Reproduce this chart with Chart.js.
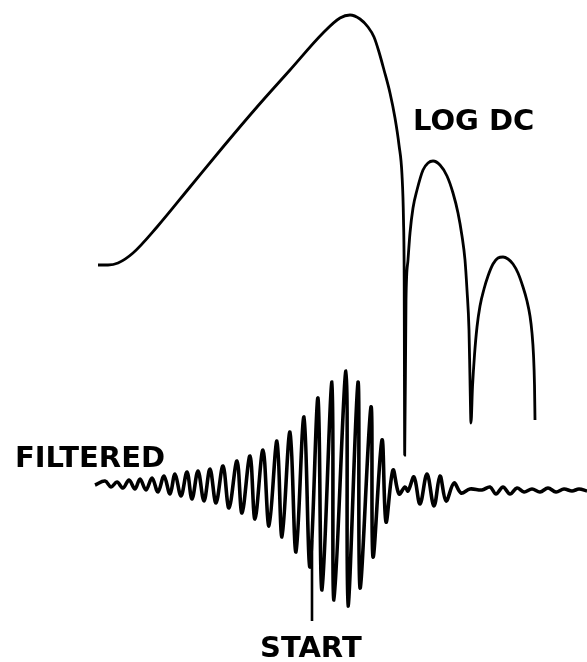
<!DOCTYPE html>
<html>
<head>
<meta charset="utf-8">
<script src="https://cdn.jsdelivr.net/npm/chart.js@4"></script>
<style>
  html, body { margin: 0; padding: 0; background: #fff; }
  #wrap { width: 587px; height: 662px; position: relative; }
</style>
</head>
<body>
<div id="wrap"><canvas id="c"></canvas></div>
<script>
// Time (ms from trace start) and deflection (chart divisions) of the two pen traces.

// Log-DC envelope: main lobe, then two smaller lobes separated by deep nulls
const dcTime  = [0.3, 1.3, 2.3, 3.8, 6.2, 9.5, 12.8, 16.2, 19.5, 22.8, 24.5, 25.5,
                 26.5, 27.3, 27.9, 28.4, 28.9, 29.5, 30.0, 30.4, 30.7, 30.85, 30.92,
                 30.97,
                 31.1, 31.3, 31.5, 31.8, 32.2, 32.8, 33.3, 33.8,
                 34.5, 35.2, 35.8, 36.3, 36.7, 37.0, 37.2, 37.4, 37.5, 37.6,
                 37.75, 37.95, 38.2, 38.5, 38.9, 39.3, 39.8, 40.3, 40.8,
                 41.3, 41.8, 42.3, 42.8, 43.2, 43.5, 43.7, 43.85, 43.95, 44.0];
const dcLevel = [22.4, 22.4, 22.6, 23.6, 26.2, 30.2, 34.2, 38.2, 41.9, 45.6, 47.1, 47.4,
                 47.0, 46.2, 45.2, 43.7, 41.9, 39.6, 37.1, 34.4, 31.4, 26.9, 20.9,
                 3.4,
                 18.9, 22.9, 25.6, 28.1, 29.9, 31.9, 32.6, 32.8,
                 32.4, 31.3, 29.6, 27.6, 25.3, 22.9, 19.9, 15.9, 10.9, 6.6,
                 10.2, 13.4, 16.2, 18.3, 20.0, 21.3, 22.5, 23.1, 23.2,
                 23.0, 22.5, 21.6, 20.2, 18.8, 17.3, 15.6, 13.4, 10.4, 6.9];

// Filtered (band-pass) trace: successive peaks and troughs of the tone burst
const filtTime = [0.0, 1.0, 1.6, 2.2, 2.8, 3.4, 4.0, 4.5, 5.1, 5.7, 6.3, 6.9, 7.5, 8.0, 8.6, 9.2, 9.7, 10.3, 10.9,
                  11.5, 12.1, 12.8, 13.4, 14.2, 14.7, 15.5, 16.0, 16.8, 17.4, 18.2, 18.7, 19.5, 20.1, 20.9, 21.5,
                  22.3, 22.7, 23.7, 23.9, 25.1, 25.3, 26.3, 26.5, 27.6, 27.8, 28.7, 29.1, 29.8, 30.4, 31.0, 31.3,
                  31.9, 32.5, 33.2, 33.9, 34.5, 35.1, 35.9, 36.6, 37.5, 38.7, 39.5, 40.1, 40.8, 41.5, 42.2, 42.9,
                  43.7, 44.5, 45.3, 46.1, 46.9, 47.7, 48.4, 49.2];
const filtAmp  = [0.4, 0.8, 0.2, 0.7, 0.1, 0.9, 0.0, 1.0, -0.1, 1.1, -0.3, 1.3, -0.5, 1.5, -0.7, 1.7, -1.0, 1.8, -1.2,
                  2.0, -1.4, 2.3, -1.9, 2.8, -2.4, 3.3, -3.0, 3.9, -3.7, 4.8, -4.8, 5.7, -6.3, 7.2, -7.8,
                  9.1, -10.1, 10.7, -11.1, 11.8, -11.7, 10.7, -9.9, 8.2, -6.8, 4.9, -3.3, 1.9, -0.5, 0.2, -0.2,
                  1.2, -1.5, 1.5, -1.7, 1.3, -1.2, 0.6, -0.4, 0.0, -0.1, 0.2, -0.5, 0.2, -0.5, 0.1, -0.3,
                  0.0, -0.3, 0.1, -0.3, 0.0, -0.2, 0.0, -0.2];

// Start-of-burst marker tick
const startTime = [21.7, 21.7];
const startAmp  = [-5.1, -13.2];

// Trace labels
const labelDC = 'LOG DC';
const labelFilt = 'FILTERED';
const labelStart = 'START';

const pts = (xs, ys) => xs.map((x, i) => ({ x: x, y: ys[i] }));

const labelPlugin = {
  id: 'traceLabels',
  afterDraw(chart) {
    const ctx = chart.ctx;
    ctx.save();
    ctx.fillStyle = '#000';
    ctx.font = "bold 29px 'DejaVu Sans', sans-serif";
    ctx.textBaseline = 'alphabetic';
    ctx.textAlign = 'left';
    ctx.fillText(labelDC, 413, 130);
    ctx.fillText(labelFilt, 15, 467);
    ctx.fillText(labelStart, 260, 657);
    ctx.restore();
  }
};

new Chart(document.getElementById('c'), {
  type: 'line',
  data: {
    datasets: [
      {
        label: labelDC,
        data: pts(dcTime, dcLevel),
        borderColor: '#000',
        borderWidth: 2.8,
        pointRadius: 0,
        cubicInterpolationMode: 'monotone',
        fill: false
      },
      {
        label: labelFilt,
        data: pts(filtTime, filtAmp),
        borderColor: '#000',
        borderWidth: 3.6,
        pointRadius: 0,
        tension: 0.35,
        fill: false
      },
      {
        label: labelStart,
        data: pts(startTime, startAmp),
        borderColor: '#000',
        borderWidth: 2.6,
        pointRadius: 0,
        tension: 0,
        fill: false
      }
    ]
  },
  options: {
    responsive: true,
    maintainAspectRatio: false,
    animation: false,
    layout: { padding: 0 },
    plugins: {
      legend: { display: false },
      tooltip: { enabled: false }
    },
    scales: {
      x: { type: 'linear', min: -9.5, max: 49.2, display: false },
      y: { type: 'linear', min: -17.3, max: 48.9, display: false }
    }
  },
  plugins: [labelPlugin]
});
</script>
</body>
</html>
